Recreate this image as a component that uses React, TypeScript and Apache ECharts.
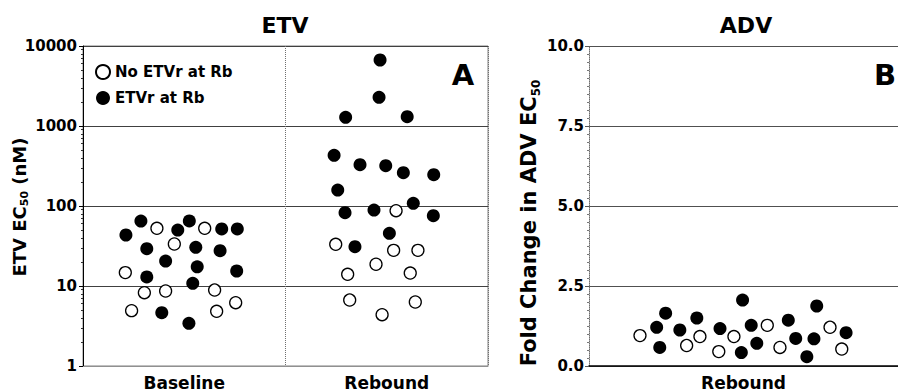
import React, { useEffect, useRef } from 'react';
import * as echarts from 'echarts';

const FONT = "'DejaVu Sans', sans-serif";

// ---------- Panel A : ETV EC50 (nM), log scale ----------
const etvCategories = ['Baseline', 'Rebound'];
const etvTickLabels = ['1', '10', '100', '1000', '10000'];

// jitter = horizontal offset from category centre (in category widths)
const baselineFilledJitter = [-0.288, -0.214, -0.032, 0.025, 0.185, 0.262, -0.185, 0.057, 0.177, -0.092, 0.064, 0.259, -0.185, 0.042, -0.111, 0.023];
const baselineFilledEC50 = [43.4, 64.9, 50.1, 65, 51.6, 51.6, 29.3, 30.4, 27.6, 20.5, 17.4, 15.4, 13.0, 10.8, 4.64, 3.42];

const baselineOpenJitter = [-0.135, 0.101, -0.049, -0.291, -0.197, -0.092, 0.15, -0.26, 0.16, 0.254];
const baselineOpenEC50 = [52.6, 52.6, 33.5, 14.7, 8.25, 8.66, 8.91, 4.92, 4.83, 6.19];

const reboundFilledJitter = [-0.033, -0.038, -0.203, 0.101, -0.26, -0.132, -0.005, 0.082, 0.232, -0.242, 0.131, -0.206, -0.063, 0.23, 0.013, -0.157];
const reboundFilledEC50 = [6683, 2282, 1284, 1308, 430, 328, 319, 261, 246, 158, 108, 82.5, 89.1, 75.7, 45.5, 31.0];

const reboundOpenJitter = [0.046, -0.252, 0.034, 0.154, -0.053, -0.193, 0.116, -0.183, 0.141, -0.023];
const reboundOpenEC50 = [87.4, 33.2, 27.9, 27.9, 18.7, 14.0, 14.5, 6.68, 6.31, 4.38];

// ---------- Panel B : Fold change in ADV EC50 ----------
const advCategories = ['Rebound'];
const advTickLabels = ['0.0', '2.5', '5.0', '7.5', '10.0'];

const advFilledJitter = [-0.281, -0.252, -0.271, -0.206, -0.151, -0.076, -0.003, 0.025, -0.007, 0.043, 0.145, 0.169, 0.237, 0.228, 0.205, 0.332];
const advFilledFold = [1.21, 1.65, 0.58, 1.125, 1.5, 1.17, 2.06, 1.27, 0.42, 0.71, 1.43, 0.86, 1.875, 0.85, 0.29, 1.04];

const advOpenJitter = [-0.335, -0.184, -0.141, -0.08, -0.031, 0.077, 0.118, 0.28, 0.318];
const advOpenFold = [0.95, 0.64, 0.92, 0.45, 0.92, 1.27, 0.58, 1.21, 0.53];

const NAME_OPEN = 'No ETVr at Rb';
const NAME_FILLED = 'ETVr at Rb';

const pts = (catIndex: number, jitter: number[], values: number[]) =>
  jitter.map((j, i) => [catIndex + 0.5 + j, values[i]]);

const filledStyle = { color: '#000000', opacity: 1 };
const openStyle = { color: '#ffffff', borderColor: '#000000', borderWidth: 1.3, opacity: 1 };

export default function App() {
  const ref = useRef<HTMLDivElement>(null);

  useEffect(() => {
    if (!ref.current) return;
    const chart = echarts.init(ref.current, undefined, { renderer: 'svg' });

    const tickLabel = { color: '#000', fontFamily: FONT, fontWeight: 'bold' as const, fontSize: 15 };
    const catLabel = { color: '#000', fontFamily: FONT, fontWeight: 'bold' as const, fontSize: 17, margin: 8 };

    const option: any = {
      animation: false,
      backgroundColor: '#ffffff',
      grid: [
        { left: 83, top: 46, width: 405, height: 320, show: true, borderColor: '#808080', borderWidth: 1, backgroundColor: 'transparent' },
        { left: 589, top: 46, width: 309, height: 320 },
      ],
      legend: {
        orient: 'vertical',
        left: 90,
        top: 59,
        itemWidth: 14,
        itemHeight: 14,
        itemGap: 10,
        icon: 'circle',
        data: [NAME_OPEN, NAME_FILLED],
        textStyle: { color: '#000', fontFamily: FONT, fontWeight: 'bold', fontSize: 15, lineHeight: 16 },
      },
      xAxis: [
        {
          type: 'category', gridIndex: 0, data: etvCategories,
          axisLine: { show: true, lineStyle: { color: '#909090', width: 1 } },
          axisTick: { show: false },
          axisLabel: catLabel,
          splitLine: { show: true, lineStyle: { color: '#707070', type: 'dotted', width: 1 } },
        },
        { type: 'value', gridIndex: 0, min: 0, max: etvCategories.length, show: false, splitLine: { show: false } },
        {
          type: 'category', gridIndex: 1, data: advCategories,
          axisLine: { show: true, lineStyle: { color: '#000', width: 1.5 } },
          axisTick: { show: false },
          axisLabel: catLabel,
          splitLine: { show: false },
        },
        { type: 'value', gridIndex: 1, min: 0, max: advCategories.length, show: false, splitLine: { show: false } },
      ],
      yAxis: [
        {
          type: 'log', gridIndex: 0, logBase: 10,
          min: Number(etvTickLabels[0]), max: Number(etvTickLabels[etvTickLabels.length - 1]),
          axisLine: { show: true, lineStyle: { color: '#000', width: 1 } },
          axisTick: { show: true, length: 4, lineStyle: { color: '#000' } },
          minorTick: { show: true, splitNumber: 9, length: 2, lineStyle: { color: '#333' } },
          axisLabel: { ...tickLabel, margin: 6, formatter: (v: number) => etvTickLabels[Math.round(Math.log10(v))] ?? String(v) },
          splitLine: { show: true, lineStyle: { color: '#404040', width: 1 } },
        },
        {
          type: 'value', gridIndex: 1,
          min: Number(advTickLabels[0]), max: Number(advTickLabels[advTickLabels.length - 1]), interval: 2.5,
          axisLine: { show: true, lineStyle: { color: '#707070', width: 1, type: 'dotted' } },
          axisTick: { show: true, length: 4, lineStyle: { color: '#555' } },
          minorTick: { show: true, splitNumber: 10, length: 2, lineStyle: { color: '#777' } },
          axisLabel: { ...tickLabel, margin: 5, formatter: (v: number) => advTickLabels[Math.round(v / 2.5)] ?? v.toFixed(1) },
          splitLine: { show: true, lineStyle: { color: '#505050', width: 1 } },
        },
      ],
      graphic: [
        { type: 'text', x: 285, y: 25, style: { text: 'ETV', fontFamily: FONT, fontWeight: 'bold', fontSize: 22, fill: '#000', textAlign: 'center', textVerticalAlign: 'middle' } },
        { type: 'text', x: 746, y: 25, style: { text: 'ADV', fontFamily: FONT, fontWeight: 'bold', fontSize: 22, fill: '#000', textAlign: 'center', textVerticalAlign: 'middle' } },
        { type: 'text', x: 463, y: 75, style: { text: 'A', fontFamily: FONT, fontWeight: 'bold', fontSize: 29, fill: '#000', textAlign: 'center', textVerticalAlign: 'middle' } },
        { type: 'text', x: 885, y: 75, style: { text: 'B', fontFamily: FONT, fontWeight: 'bold', fontSize: 29, fill: '#000', textAlign: 'center', textVerticalAlign: 'middle' } },
        {
          type: 'text', x: 19, y: 207, rotation: Math.PI / 2,
          style: {
            text: '{a|ETV EC}{s|50}{a| (nM)}',
            textAlign: 'center', textVerticalAlign: 'middle',
            rich: {
              a: { fontFamily: FONT, fontWeight: 'bold', fontSize: 18, lineHeight: 22, color: '#000' },
              s: { fontFamily: FONT, fontWeight: 'bold', fontSize: 11, lineHeight: 12, verticalAlign: 'bottom', color: '#000' },
            },
          },
        },
        {
          type: 'text', x: 529, y: 223, rotation: Math.PI / 2,
          style: {
            text: '{a|Fold Change in ADV EC}{s|50}',
            textAlign: 'center', textVerticalAlign: 'middle',
            rich: {
              a: { fontFamily: FONT, fontWeight: 'bold', fontSize: 21, lineHeight: 25, color: '#000' },
              s: { fontFamily: FONT, fontWeight: 'bold', fontSize: 12, lineHeight: 13, verticalAlign: 'bottom', color: '#000' },
            },
          },
        },
      ],
      series: [
        { name: NAME_OPEN, type: 'scatter', xAxisIndex: 1, yAxisIndex: 0, symbol: 'circle', symbolSize: 12, itemStyle: openStyle, data: pts(0, baselineOpenJitter, baselineOpenEC50) },
        { name: NAME_FILLED, type: 'scatter', xAxisIndex: 1, yAxisIndex: 0, symbol: 'circle', symbolSize: 13, itemStyle: filledStyle, data: pts(0, baselineFilledJitter, baselineFilledEC50) },
        { name: NAME_OPEN, type: 'scatter', xAxisIndex: 1, yAxisIndex: 0, symbol: 'circle', symbolSize: 12, itemStyle: openStyle, data: pts(1, reboundOpenJitter, reboundOpenEC50) },
        { name: NAME_FILLED, type: 'scatter', xAxisIndex: 1, yAxisIndex: 0, symbol: 'circle', symbolSize: 13, itemStyle: filledStyle, data: pts(1, reboundFilledJitter, reboundFilledEC50) },
        { name: NAME_OPEN, type: 'scatter', xAxisIndex: 3, yAxisIndex: 1, symbol: 'circle', symbolSize: 12, itemStyle: openStyle, data: pts(0, advOpenJitter, advOpenFold) },
        { name: NAME_FILLED, type: 'scatter', xAxisIndex: 3, yAxisIndex: 1, symbol: 'circle', symbolSize: 13, itemStyle: filledStyle, data: pts(0, advFilledJitter, advFilledFold) },
      ],
    };

    chart.setOption(option);
    return () => chart.dispose();
  }, []);

  return (
    <div
      ref={ref}
      style={{ position: 'fixed', left: 0, top: 0, width: 898, height: 392, background: '#fff' }}
    />
  );
}
